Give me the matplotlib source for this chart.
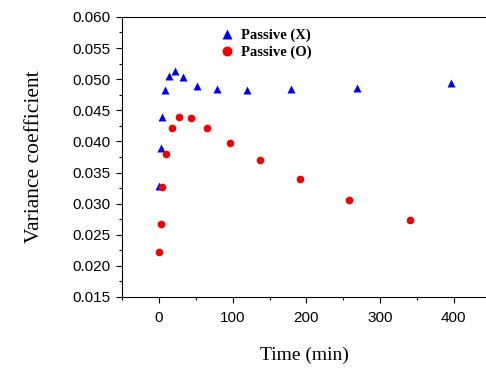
import numpy as np
import matplotlib.pyplot as plt
from matplotlib.ticker import MultipleLocator

# Passive (X) - triangles
time_x = [0, 2, 4, 8, 13, 21, 33, 51, 78, 119, 179, 269, 396]
cv_x = [0.0328, 0.0389, 0.0440, 0.0482, 0.0505, 0.0513, 0.0503,
        0.0489, 0.0484, 0.0482, 0.0484, 0.0486, 0.0494]

# Passive (O) - circles
time_o = [0, 2, 4.5, 10, 17, 27, 43, 65, 96, 137, 191, 258, 341]
cv_o = [0.0222, 0.0268, 0.0326, 0.0380, 0.0421, 0.0440, 0.0438,
        0.0422, 0.0397, 0.0370, 0.0339, 0.0306, 0.0274]

fig = plt.figure(figsize=(4.86, 3.68), dpi=100)
ax = fig.add_axes([0.250, 0.193, 0.752, 0.761])

ax.plot(time_x, cv_x, "^", color="#0000ee", ms=6, mec="none", label="Passive (X)")
ax.plot(time_o, cv_o, "o", color="#ee0000", ms=5.5, mec="none", label="Passive (O)")

ax.set_xlim(-51, 445)
ax.set_ylim(0.015, 0.060)
ax.set_xticks([0, 100, 200, 300, 400])
ax.set_yticks(np.arange(0.015, 0.0601, 0.005))
ax.set_yticklabels(["%.3f" % v for v in np.arange(0.015, 0.0601, 0.005)])
ax.xaxis.set_minor_locator(MultipleLocator(50))
ax.yaxis.set_minor_locator(MultipleLocator(0.0025))
ax.tick_params(which="major", direction="out", length=4, width=0.8,
               labelsize=11, colors="black", pad=4)
ax.tick_params(which="minor", direction="out", length=2.5, width=0.8)
ax.tick_params(axis="x", which="major", pad=6)
ax.tick_params(top=False, right=False, which="both")
for lbl in ax.get_xticklabels() + ax.get_yticklabels():
    lbl.set_family("Liberation Sans")
ax.spines["right"].set_visible(False)

ax.set_xlabel("Time (min)", family="Liberation Serif", fontsize=14, labelpad=16)
ax.set_ylabel("Variance coefficient", family="Liberation Serif", fontsize=15.5, labelpad=20)

leg = ax.legend(loc="upper left", bbox_to_anchor=(0.222, 1.005), frameon=False,
                prop={"family": "Liberation Serif", "weight": "bold", "size": 10.5},
                handletextpad=0.25, markerscale=1.3, labelspacing=0.25,
                handlelength=1.5)

fig.savefig("out.png", dpi=100)
